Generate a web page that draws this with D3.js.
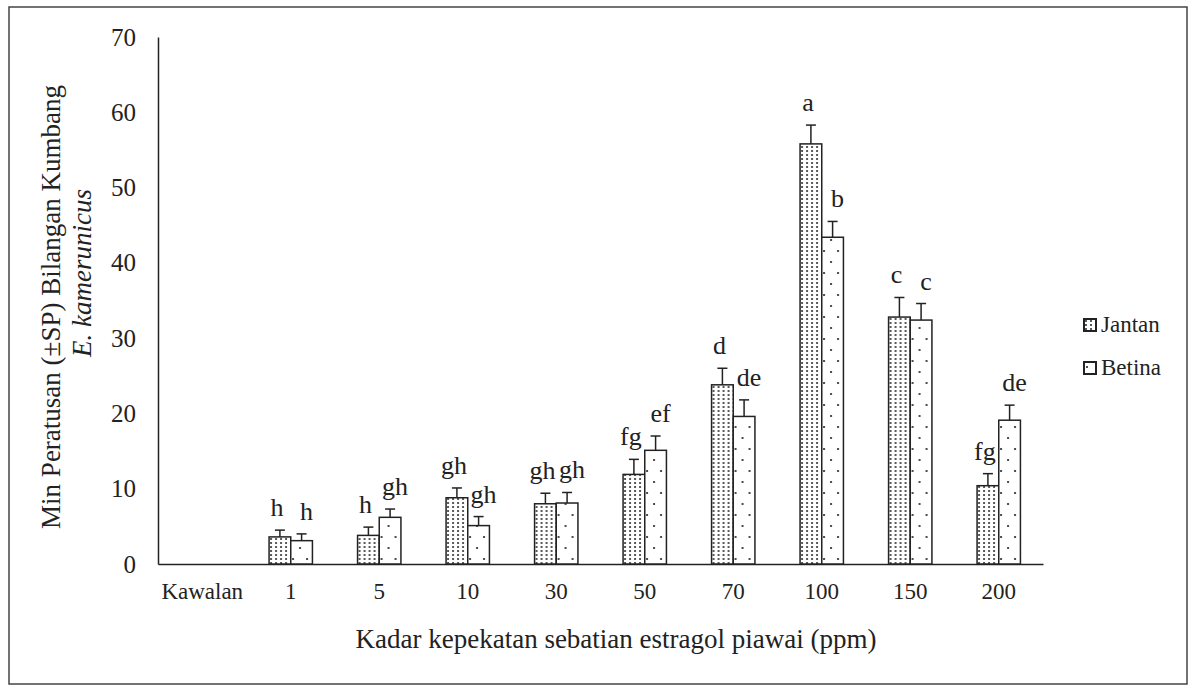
<!DOCTYPE html>
<html>
<head>
<meta charset="utf-8">
<script src="https://cdn.jsdelivr.net/npm/d3@7"></script>
<style>
  body { margin: 0; background: #fff; }
  text { font-family: "Liberation Serif", "Times New Roman", serif; fill: #222; }
</style>
</head>
<body>
<div id="canvas"></div>
<script>
// data
var categories = ['Kawalan', '1', '5', '10', '30', '50', '70', '100', '150', '200'];
var series = ['Jantan', 'Betina'];
var jantan = [0, 3.6, 3.8, 8.8, 8.0, 11.9, 23.8, 55.8, 32.8, 10.4];
var betina = [0, 3.1, 6.2, 5.1, 8.1, 15.1, 19.6, 43.4, 32.4, 19.1];
var jantanErr = [0, 0.9, 1.1, 1.3, 1.4, 2.0, 2.2, 2.5, 2.6, 1.6];
var betinaErr = [0, 0.9, 1.1, 1.2, 1.4, 1.9, 2.2, 2.1, 2.2, 2.0];
var jantanLetters = ['', 'h', 'h', 'gh', 'gh', 'fg', 'd', 'a', 'c', 'fg'];
var betinaLetters = ['', 'h', 'gh', 'gh', 'gh', 'ef', 'de', 'b', 'c', 'de'];
var yTicks = [0, 10, 20, 30, 40, 50, 60, 70];

var W = 1190, H = 686;
var m = {t: 37, r: 147, b: 122, l: 158},
    w = W - m.l - m.r,
    h = H - m.t - m.b;

var serif = '"Liberation Serif", "Times New Roman", serif';

var svg = d3.select('#canvas').append('svg')
    .attr('width', W).attr('height', H);

// fill patterns
var defs = svg.append('defs');
var pj = defs.append('pattern').attr('id', 'pJ')
    .attr('patternUnits', 'userSpaceOnUse').attr('width', 5).attr('height', 4);
pj.append('rect').attr('width', 5).attr('height', 4).attr('fill', '#fff');
pj.append('circle').attr('cx', 2).attr('cy', 2).attr('r', 1).attr('fill', '#222');

var pb = defs.append('pattern').attr('id', 'pB')
    .attr('patternUnits', 'userSpaceOnUse').attr('width', 14).attr('height', 22);
pb.append('rect').attr('width', 14).attr('height', 22).attr('fill', '#fff');
pb.append('circle').attr('cx', 3).attr('cy', 5).attr('r', 1.1).attr('fill', '#222');
pb.append('circle').attr('cx', 10).attr('cy', 16).attr('r', 1.1).attr('fill', '#222');

// outer frame
svg.append('rect').attr('x', 9).attr('y', 7).attr('width', 1178).attr('height', 677)
    .attr('fill', 'none').attr('stroke', '#444').attr('stroke-width', 1.5);

var plot = svg.append('g').attr('transform', 'translate(' + m.l + ',' + m.t + ')');

var x0 = d3.scaleBand().domain(categories).range([0, w]).paddingInner(0.51).paddingOuter(0.255);
var x1 = d3.scaleBand().domain(series).range([0, x0.bandwidth()]);
var y = d3.scaleLinear().domain([0, 70]).range([h, 0]);

// y axis
var yAxis = plot.append('g').call(d3.axisLeft(y).tickValues(yTicks).tickSize(0).tickPadding(22));
yAxis.select('.domain').attr('stroke', '#222').attr('stroke-width', 1.5);
yAxis.selectAll('text').style('font-size', '25px').style('font-family', serif).attr('fill', '#222');

// x axis
var xAxis = plot.append('g').attr('transform', 'translate(0,' + h + ')')
    .call(d3.axisBottom(x0).tickSize(0).tickPadding(19));
xAxis.select('.domain').attr('stroke', '#222').attr('stroke-width', 1.5);
xAxis.selectAll('text').style('font-size', '23px').style('font-family', serif).attr('fill', '#222');

var rows = categories.map(function (c, i) {
  return [
    {cat: c, s: 'Jantan', v: jantan[i], e: jantanErr[i], l: jantanLetters[i], fill: 'url(#pJ)', dx: -3},
    {cat: c, s: 'Betina', v: betina[i], e: betinaErr[i], l: betinaLetters[i], fill: 'url(#pB)', dx: 5}
  ];
});

var groups = plot.selectAll('.grp').data(rows).enter().append('g').attr('class', 'grp')
    .attr('transform', function (d) { return 'translate(' + x0(d[0].cat) + ',0)'; });

var bars = groups.selectAll('.bar').data(function (d) { return d; }).enter().append('g');

bars.append('rect')
    .attr('x', function (d) { return x1(d.s); })
    .attr('width', x1.bandwidth())
    .attr('y', function (d) { return y(d.v); })
    .attr('height', function (d) { return h - y(d.v); })
    .attr('fill', function (d) { return d.fill; })
    .attr('stroke', function (d) { return d.v > 0 ? '#222' : '#bbb'; })
    .attr('stroke-width', 1.5);

// error bars (upper only)
var eb = bars.filter(function (d) { return d.e > 0; });
eb.append('line')
    .attr('x1', function (d) { return x1(d.s) + x1.bandwidth() / 2; })
    .attr('x2', function (d) { return x1(d.s) + x1.bandwidth() / 2; })
    .attr('y1', function (d) { return y(d.v); })
    .attr('y2', function (d) { return y(d.v + d.e); })
    .attr('stroke', '#222').attr('stroke-width', 1.5);
eb.append('line')
    .attr('x1', function (d) { return x1(d.s) + x1.bandwidth() / 2 - 5; })
    .attr('x2', function (d) { return x1(d.s) + x1.bandwidth() / 2 + 5; })
    .attr('y1', function (d) { return y(d.v + d.e); })
    .attr('y2', function (d) { return y(d.v + d.e); })
    .attr('stroke', '#222').attr('stroke-width', 1.5);

// significance letters
bars.filter(function (d) { return d.l; }).append('text')
    .attr('x', function (d) { return x1(d.s) + x1.bandwidth() / 2 + d.dx; })
    .attr('y', function (d) { return y(d.v + d.e) - 14; })
    .attr('text-anchor', 'middle')
    .style('font-size', '26px')
    .text(function (d) { return d.l; });

// axis titles
svg.append('text').attr('x', 616).attr('y', 648).attr('text-anchor', 'middle')
    .style('font-size', '27px').text('Kadar kepekatan sebatian estragol piawai (ppm)');

svg.append('text').attr('transform', 'translate(60,307) rotate(-90)').attr('text-anchor', 'middle')
    .style('font-size', '27px').text('Min Peratusan  (±SP) Bilangan Kumbang');
svg.append('text').attr('transform', 'translate(91,273) rotate(-90)').attr('text-anchor', 'middle')
    .style('font-size', '27px').style('font-style', 'italic').text('E. kamerunicus');

// legend
var leg = svg.append('g').attr('transform', 'translate(1084,319)');
var li = leg.selectAll('g').data(series).enter().append('g')
    .attr('transform', function (d, i) { return 'translate(0,' + (i * 43) + ')'; });
li.append('rect').attr('width', 12).attr('height', 12)
    .attr('fill', function (d) { return d === 'Jantan' ? 'url(#pJ)' : 'url(#pB)'; })
    .attr('stroke', '#222').attr('stroke-width', 2);
li.append('text').attr('x', 17).attr('y', 13).style('font-size', '23px')
    .text(function (d) { return d; });
</script>
</body>
</html>
